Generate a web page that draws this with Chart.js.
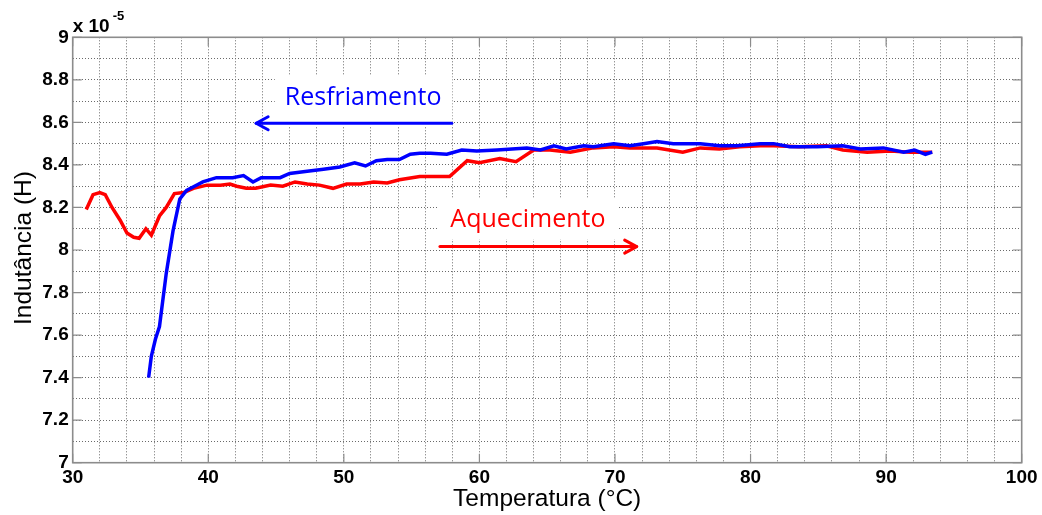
<!DOCTYPE html>
<html>
<head>
<meta charset="utf-8">
<script src="https://cdn.jsdelivr.net/npm/chart.js@4/dist/chart.umd.min.js"></script>
<style>
  html, body { margin: 0; padding: 0; background: #ffffff; }
  #wrap { width: 1042px; height: 515px; position: relative; }
</style>
</head>
<body>
<div id="wrap"><canvas id="chart" width="1042" height="515"></canvas></div>
<script>
// Heating run (Aquecimento): temperature in °C, inductance in units of 1e-5 H
const heatingTemp = [31.0, 31.5, 32.0, 32.4, 32.9, 33.5, 34.0, 34.5, 34.9, 35.4,
  35.8, 36.4, 36.9, 37.5, 38.2, 38.9, 39.9, 40.9, 41.6, 42.1,
  42.8, 43.5, 44.6, 45.5, 46.4, 47.3, 48.2, 49.2, 50.2, 51.2,
  52.2, 53.2, 54.1, 55.6, 57.8, 59.1, 60.0, 61.5, 62.7, 64.0,
  65.2, 66.7, 68.4, 69.9, 71.1, 73.1, 75.0, 76.3, 77.7, 79.2,
  80.7, 81.7, 83.6, 85.6, 86.8, 88.6, 90.3, 91.8, 93.4];
const heatingInd = [8.19, 8.26, 8.27, 8.26, 8.20, 8.14, 8.08, 8.06, 8.055, 8.10,
  8.07, 8.16, 8.20, 8.265, 8.27, 8.29, 8.305, 8.305, 8.31, 8.30,
  8.29, 8.29, 8.305, 8.30, 8.32, 8.31, 8.305, 8.29, 8.31, 8.31,
  8.32, 8.315, 8.33, 8.345, 8.345, 8.42, 8.41, 8.43, 8.415, 8.47,
  8.47, 8.46, 8.48, 8.485, 8.48, 8.48, 8.46, 8.48, 8.475, 8.485,
  8.49, 8.49, 8.485, 8.49, 8.47, 8.46, 8.465, 8.46, 8.46];

// Cooling run (Resfriamento)
const coolingTemp = [35.6, 35.8, 36.1, 36.4, 36.9, 37.4, 37.9, 38.4, 38.7, 39.3,
  39.6, 40.6, 41.8, 42.6, 43.3, 43.9, 45.3, 46.0, 47.3, 48.5,
  49.7, 50.8, 51.6, 52.4, 53.2, 54.1, 54.9, 55.6, 56.4, 57.6,
  58.7, 59.8, 61.3, 63.5, 64.5, 65.5, 66.4, 67.7, 68.4, 69.9,
  71.1, 72.1, 73.1, 74.3, 76.3, 77.7, 79.0, 80.7, 81.7, 82.9,
  84.9, 86.8, 88.1, 89.8, 91.3, 92.1, 92.9, 93.4];
const coolingInd = [7.40, 7.50, 7.58, 7.64, 7.89, 8.09, 8.24, 8.28, 8.29, 8.31,
  8.32, 8.34, 8.34, 8.35, 8.32, 8.34, 8.34, 8.36, 8.37, 8.38,
  8.39, 8.41, 8.395, 8.42, 8.425, 8.425, 8.45, 8.455, 8.455, 8.45,
  8.47, 8.465, 8.47, 8.48, 8.47, 8.49, 8.475, 8.49, 8.485, 8.50,
  8.49, 8.50, 8.51, 8.50, 8.50, 8.49, 8.49, 8.50, 8.50, 8.485,
  8.485, 8.49, 8.475, 8.48, 8.46, 8.47, 8.45, 8.46];

// Labelled ticks
const xTickLabels = ['30', '40', '50', '60', '70', '80', '90', '100'];
const yTickLabels = ['7', '7.2', '7.4', '7.6', '7.8', '8', '8.2', '8.4', '8.6', '8.8', '9'];

const xTitle = 'Temperatura (°C)';
const yTitle = 'Indutância (H)';

// In-plot notes, placed in data coordinates
const notes = [
  { text: 'Resfriamento', color: '#0000ff', x: 51.42, y: 8.682,
    box: [44.9, 58.0, 8.818, 8.583], arrow: [57.96, 43.53, 8.596] },
  { text: 'Aquecimento', color: '#ff0000', x: 63.58, y: 8.108,
    box: [56.9, 70.2, 8.245, 8.05], arrow: [57.09, 71.60, 8.016] }
];

const toPoints = (xs, ys) => xs.map((x, i) => ({ x: x, y: ys[i] }));
const FONT = "'Liberation Sans', Arial, sans-serif";
const FRAME = '#8c8c8c';

const notesPlugin = {
  id: 'notes',
  beforeDatasetsDraw(chart) {
    const { ctx, scales: { x, y } } = chart;
    ctx.save();
    notes.forEach(n => {
      // white text box hides the grid behind the label
      const bx0 = x.getPixelForValue(n.box[0]), bx1 = x.getPixelForValue(n.box[1]);
      const by0 = y.getPixelForValue(n.box[2]), by1 = y.getPixelForValue(n.box[3]);
      ctx.fillStyle = '#ffffff';
      ctx.fillRect(bx0, by0, bx1 - bx0, by1 - by0);

      ctx.fillStyle = n.color;
      ctx.font = "25px 'Open Sans', sans-serif";
      ctx.textAlign = 'center';
      ctx.textBaseline = 'alphabetic';
      ctx.fillText(n.text, x.getPixelForValue(n.x), y.getPixelForValue(n.y));

      // arrow: tail -> tip with an open head
      const ax0 = x.getPixelForValue(n.arrow[0]);
      const ax1 = x.getPixelForValue(n.arrow[1]);
      const ay = y.getPixelForValue(n.arrow[2]);
      const dir = Math.sign(ax1 - ax0);
      ctx.strokeStyle = n.color;
      ctx.lineWidth = 3;
      ctx.lineCap = 'round';
      ctx.lineJoin = 'round';
      ctx.beginPath();
      ctx.moveTo(ax0, ay);
      ctx.lineTo(ax1, ay);
      ctx.stroke();
      ctx.beginPath();
      ctx.moveTo(ax1 - dir * 12, ay - 6.5);
      ctx.lineTo(ax1, ay);
      ctx.lineTo(ax1 - dir * 12, ay + 6.5);
      ctx.stroke();
    });
    ctx.restore();
  },
  afterDraw(chart) {
    const { ctx, chartArea: a, scales: { x, y } } = chart;
    ctx.save();
    // axes box
    ctx.strokeStyle = FRAME;
    ctx.lineWidth = 1.6;
    ctx.strokeRect(a.left, a.top, a.right - a.left, a.bottom - a.top);
    // inward tick marks at labelled values, on all four sides
    ctx.lineWidth = 1.2;
    ctx.beginPath();
    xTickLabels.forEach(t => {
      const px = x.getPixelForValue(Number(t));
      ctx.moveTo(px, a.bottom); ctx.lineTo(px, a.bottom - 9);
      ctx.moveTo(px, a.top); ctx.lineTo(px, a.top + 9);
    });
    yTickLabels.forEach(t => {
      const py = y.getPixelForValue(Number(t));
      ctx.moveTo(a.left, py); ctx.lineTo(a.left + 9, py);
      ctx.moveTo(a.right, py); ctx.lineTo(a.right - 9, py);
    });
    ctx.stroke();

    // exponent marker above the y axis
    ctx.fillStyle = '#000000';
    ctx.textAlign = 'left';
    ctx.textBaseline = 'alphabetic';
    ctx.font = 'bold 19px ' + FONT;
    ctx.fillText('x 10', a.left, 32);
    ctx.font = 'bold 13px ' + FONT;
    ctx.fillText('-5', a.left + 40, 20);

    // axis titles
    ctx.font = '24.5px ' + FONT;
    ctx.textAlign = 'center';
    ctx.fillText(xTitle, (a.left + a.right) / 2, 506);
    ctx.save();
    ctx.translate(31, (a.top + a.bottom) / 2 - 2);
    ctx.rotate(-Math.PI / 2);
    ctx.fillText(yTitle, 0, 0);
    ctx.restore();
    ctx.restore();
  }
};

const labelFor = (v, labels) => labels.find(l => Math.abs(Number(l) - v) < 1e-6) || '';

new Chart(document.getElementById('chart'), {
  type: 'scatter',
  data: {
    datasets: [
      {
        label: 'Aquecimento',
        data: toPoints(heatingTemp, heatingInd),
        showLine: true,
        borderColor: '#ff0000',
        backgroundColor: '#ff0000',
        borderWidth: 3.5,
        pointRadius: 0,
        tension: 0,
        order: 2
      },
      {
        label: 'Resfriamento',
        data: toPoints(coolingTemp, coolingInd),
        showLine: true,
        borderColor: '#0000ff',
        backgroundColor: '#0000ff',
        borderWidth: 3.5,
        pointRadius: 0,
        tension: 0,
        order: 1
      }
    ]
  },
  options: {
    responsive: false,
    animation: false,
    devicePixelRatio: 1,
    layout: { padding: { left: 0, right: 20.3, top: 37.3, bottom: 0 } },
    plugins: { legend: { display: false }, tooltip: { enabled: false } },
    scales: {
      x: {
        type: 'linear',
        min: 30,
        max: 100,
        afterFit: s => { s.height = 52.3; },
        ticks: {
          stepSize: 2,
          autoSkip: false,
          maxRotation: 0,
          padding: 4,
          color: '#000000',
          font: { family: FONT, size: 19, weight: 'bold' },
          callback: v => labelFor(v, xTickLabels)
        },
        grid: { color: '#6a6a6a', lineWidth: 1, drawTicks: false },
        border: { display: false, dash: [1, 2] }
      },
      y: {
        type: 'linear',
        min: 7,
        max: 9,
        afterFit: s => { s.width = 72.7; },
        ticks: {
          stepSize: 0.1,
          autoSkip: false,
          padding: 4,
          color: '#000000',
          font: { family: FONT, size: 19, weight: 'bold' },
          callback: v => labelFor(Math.round(v * 10) / 10, yTickLabels)
        },
        grid: { color: '#6a6a6a', lineWidth: 1, drawTicks: false },
        border: { display: false, dash: [1, 2] }
      }
    }
  },
  plugins: [notesPlugin]
});
</script>
</body>
</html>
